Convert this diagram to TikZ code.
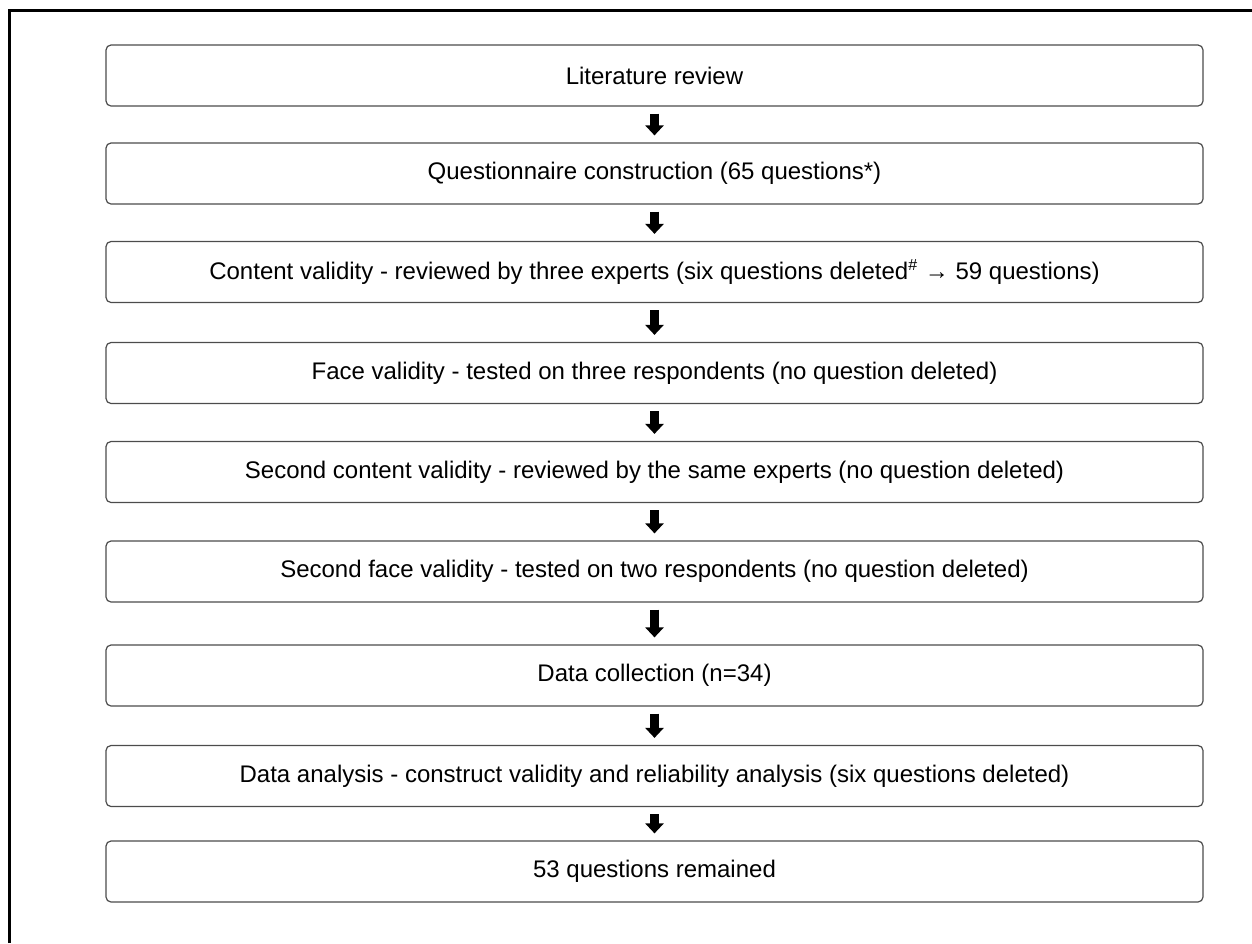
\documentclass[tikz,border=0pt]{standalone}
\usepackage{fontspec}
\setmainfont{Liberation Sans}
\usetikzlibrary{arrows.meta}
\tikzset{
  passo/.style={draw=black!70, line width=0.6pt, rounded corners=2.5pt, minimum width=548.5pt, minimum height=30.5pt, inner sep=0pt, font=\fontsize{12}{14}\selectfont},
  freccia/.style={line width=4.5pt, -{Triangle[width=9pt,length=5pt]}, shorten <=3.5pt, shorten >=3.5pt}
}

\begin{document}
\begin{tikzpicture}[x=0.5pt, y=-0.5pt]
    % Dimensioni
    \pgfmathsetmacro{\xc}{654.5}
    \useasboundingbox (0,0) rectangle (1252,943);
    % Cornice
    \draw[line width=1.5pt] (9.7,943) -- (9.7,10.7) -- (1252,10.7);
    % Passi
    \node[passo] (lit) at (\xc,75.5) {Literature review};
    \node[passo] (quest) at (\xc,173.5) {Questionnaire construction (65 questions*)};
    \node[passo] (content) at (\xc,272) {Content validity - reviewed by three experts (six questions deleted\textsuperscript{\#} → 59 questions)};
    \node[passo] (face) at (\xc,373) {Face validity - tested on three respondents (no question deleted)};
    \node[passo] (contentb) at (\xc,472) {Second content validity - reviewed by the same experts (no question deleted)};
    \node[passo] (faceb) at (\xc,571.5) {Second face validity - tested on two respondents (no question deleted)};
    \node[passo] (collect) at (\xc,675.5) {Data collection (n=34)};
    \node[passo] (analysis) at (\xc,776) {Data analysis - construct validity and reliability analysis (six questions deleted)};
    \node[passo] (remain) at (\xc,871.5) {53 questions remained};
    % Frecce
    \draw[freccia] (lit) -- (quest);
    \draw[freccia] (quest) -- (content);
    \draw[freccia] (content) -- (face);
    \draw[freccia] (face) -- (contentb);
    \draw[freccia] (contentb) -- (faceb);
    \draw[freccia] (faceb) -- (collect);
    \draw[freccia] (collect) -- (analysis);
    \draw[freccia] (analysis) -- (remain);
\end{tikzpicture}
\end{document}
